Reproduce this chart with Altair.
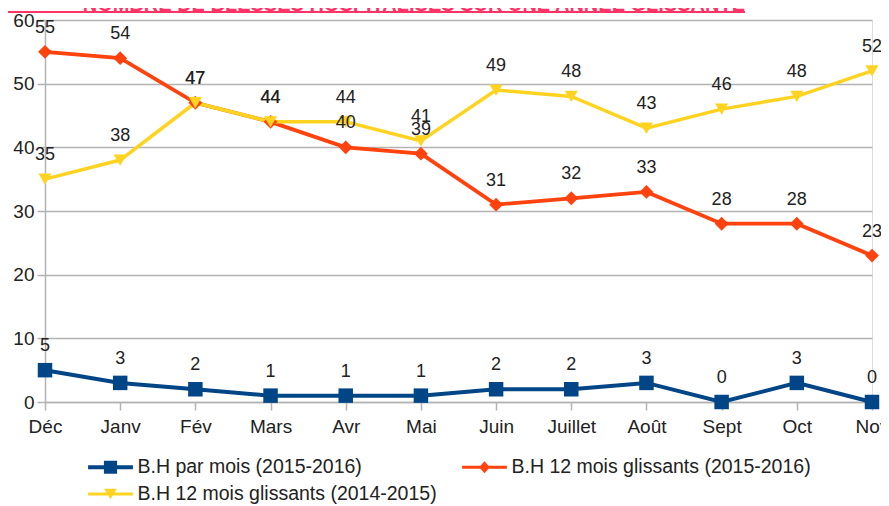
import altair as alt
import pandas as pd

MONTHS = ["Déc", "Janv", "Fév", "Mars", "Avr", "Mai", "Juin", "Juillet", "Août", "Sept", "Oct", "Nov"]
SERIES = [
    "B.H par mois (2015-2016)",
    "B.H 12 mois glissants (2015-2016)",
    "B.H 12 mois glissants (2014-2015)",
]
PAR_MOIS_1516 = [5, 3, 2, 1, 1, 1, 2, 2, 3, 0, 3, 0]
GLISSANTS_1516 = [55, 54, 47, 44, 40, 39, 31, 32, 33, 28, 28, 23]
GLISSANTS_1415 = [35, 38, 47, 44, 44, 41, 49, 48, 43, 46, 48, 52]
Y_TICKS = [0, 10, 20, 30, 40, 50, 60]
TITLE = "NOMBRE DE BLESSES HOSPITALISES SUR UNE ANNEE GLISSANTE"

COLORS = ["#004586", "#ff420e", "#ffd320"]
MARKERS = ["square", "diamond", "triangle-down"]
MARKER_SIZES = [210, 170, 230]
LINE_WIDTHS = [4, 3.5, 3.5]
LEGEND_SYMBOLS = [
    "M-1.6,-0.15H1.6V0.15H-1.6Z M-0.47,-0.47H0.47V0.47H-0.47Z",
    "M-1.6,-0.11H1.6V0.11H-1.6Z M0,-0.42L0.38,0L0,0.42L-0.38,0Z",
    "M-1.6,-0.11H1.6V0.11H-1.6Z M-0.45,-0.38L0.45,-0.38L0,0.38Z",
]

rows = []
for serie, values in zip(SERIES, [PAR_MOIS_1516, GLISSANTS_1516, GLISSANTS_1415]):
    for mois, v in zip(MONTHS, values):
        rows.append({"mois": mois, "serie": serie, "valeur": v})
df = pd.DataFrame(rows)

FONT = "Liberation Sans"
TXT = "#222222"
GRID = "#b3b3b3"

x = alt.X(
    "mois:N",
    sort=MONTHS,
    scale=alt.Scale(type="point", domain=MONTHS, padding=0),
    axis=alt.Axis(
        title=None, labelAngle=0, labelFont=FONT, labelFontSize=19, labelColor=TXT,
        tickColor=GRID, tickSize=8, tickWidth=1.5, domainColor=GRID, domainWidth=1.5,
        labelPadding=7, grid=False,
    ),
)
y = alt.Y(
    "valeur:Q",
    scale=alt.Scale(domain=[0, 60], nice=False),
    axis=alt.Axis(
        title=None, values=Y_TICKS, labelFont=FONT, labelFontSize=19, labelColor=TXT,
        tickColor=GRID, tickSize=8, tickWidth=1.5, domainColor=GRID, domainWidth=1.5,
        gridColor=GRID, gridWidth=1.5, labelPadding=3,
    ),
)
cscale = alt.Scale(domain=SERIES, range=COLORS)

base = alt.Chart(df)

lines = base.mark_line().encode(
    x=x, y=y,
    color=alt.Color("serie:N", scale=cscale, legend=None),
    strokeWidth=alt.StrokeWidth("serie:N", scale=alt.Scale(domain=SERIES, range=LINE_WIDTHS), legend=None),
)

points = base.mark_point(filled=True, opacity=1).encode(
    x=x, y=y,
    color=alt.Color("serie:N", scale=cscale, legend=None),
    shape=alt.Shape("serie:N", scale=alt.Scale(domain=SERIES, range=MARKERS), legend=None),
    size=alt.Size("serie:N", scale=alt.Scale(domain=SERIES, range=MARKER_SIZES), legend=None),
)

labels = base.mark_text(
    font=FONT, fontSize=18, color=TXT, baseline="alphabetic", dy=-19
).encode(x=x, y=y, text="valeur:Q")

LEG = alt.Legend(
    title=None, orient="none", legendX=51.5, legendY=433, columns=2,
    symbolSize=784, symbolStrokeWidth=0, labelOffset=13, labelFont=FONT,
    labelFontSize=19.5, labelColor=TXT, labelLimit=500, columnPadding=24,
    rowPadding=3, padding=0, direction="horizontal",
)
legend_layer = base.mark_point(filled=True, opacity=1, size=0).encode(
    x=x, y=y,
    color=alt.Color("serie:N", scale=cscale, legend=LEG),
    shape=alt.Shape("serie:N", scale=alt.Scale(domain=SERIES, range=LEGEND_SYMBOLS), legend=LEG),
)

title_df = pd.DataFrame({"t": [TITLE]})
title_text = alt.Chart(title_df).mark_text(
    font=FONT, fontSize=20, fontWeight="bold", color="#ff3366", align="right", baseline="alphabetic"
).encode(text="t:N", x=alt.value(700), y=alt.value(-9.5))
title_rule = alt.Chart(title_df).mark_rule(color="#ff3366", strokeWidth=2).encode(
    x=alt.value(-60), x2=alt.value(700), y=alt.value(-8)
)

chart = alt.layer(
    lines, points, labels, legend_layer, title_text, title_rule
).resolve_scale(
    shape="independent"
).resolve_legend(
    color="independent", shape="independent", size="independent", strokeWidth="independent"
).properties(
    width=827, height=382,
    autosize=alt.AutoSizeParams(type="none"),
    padding={"left": 37, "top": 12, "right": 9, "bottom": 104},
).configure_view(
    stroke=GRID, strokeWidth=1.5
).configure(background="white")

chart.save("out.html", embed_options={"renderer": "svg", "actions": False})
